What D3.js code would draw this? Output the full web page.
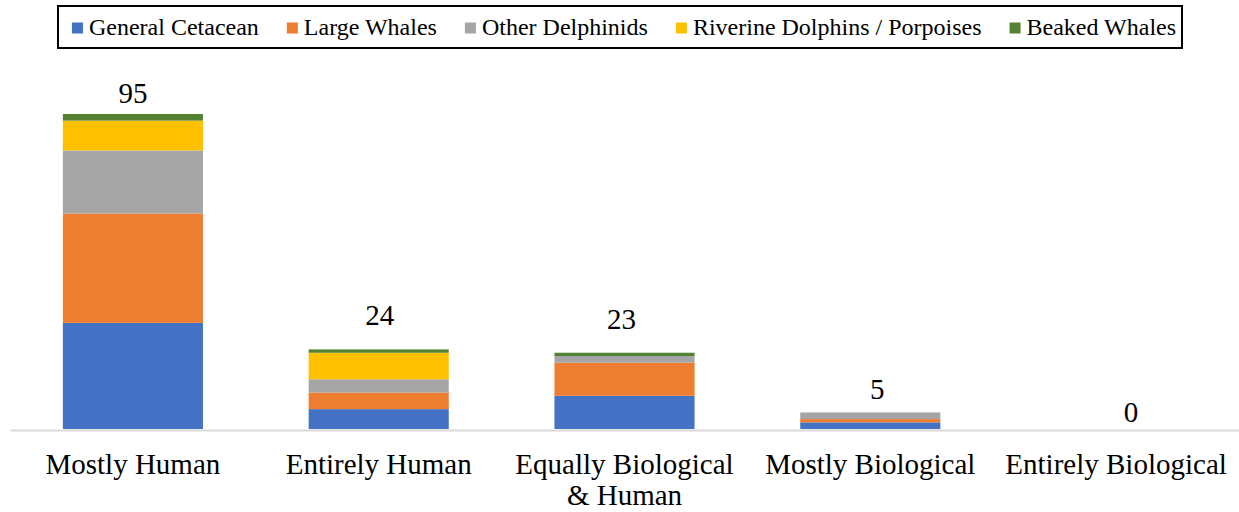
<!DOCTYPE html>
<html>
<head>
<meta charset="utf-8">
<script src="https://cdn.jsdelivr.net/npm/d3@7"></script>
</head>
<body style="margin:0;background:#fff">
<svg id="chart" width="1239" height="512" style="display:block"></svg>
<script>
// Categories of attributed cause and the counts per cetacean group
const categories = ["Mostly Human", "Entirely Human", "Equally Biological & Human", "Mostly Biological", "Entirely Biological"];
const seriesNames = ["General Cetacean", "Large Whales", "Other Delphinids", "Riverine Dolphins / Porpoises", "Beaked Whales"];
const generalCetacean = [32, 6, 10, 2, 0];
const largeWhales     = [33, 5, 10, 1, 0];
const otherDelphinids = [19, 4, 2, 2, 0];
const riverine        = [9, 8, 0, 0, 0];
const beakedWhales    = [2, 1, 1, 0, 0];
const totals          = [95, 24, 23, 5, 0];

const seriesColors = ["#4472C4", "#ED7D31", "#A5A5A5", "#FFC000", "#548235"];
// placement tweaks for the total labels: gap above the stack and sideways shift
const labelGap = [11, 24, 24, 13, 7];
const labelShift = [0, 1, -3, 7, 15];

const FONT = '"Liberation Serif"';
const W = 1239, H = 512;

// apply the serif face to a text selection
function serif(sel, size) {
  sel.attr("font-family", "Liberation Serif")
    .attr("font-size", size)
    .style("font-family", FONT, "important")
    .style("font-size", size + "px", "important")
    .attr("fill", "#000");
}

const svg = d3.select("#chart").attr("font-family", "Liberation Serif");

const rows = categories.map((c, i) => ({
  category: c,
  [seriesNames[0]]: generalCetacean[i],
  [seriesNames[1]]: largeWhales[i],
  [seriesNames[2]]: otherDelphinids[i],
  [seriesNames[3]]: riverine[i],
  [seriesNames[4]]: beakedWhales[i]
}));

const stacked = d3.stack().keys(seriesNames)(rows);

const x = d3.scaleBand()
  .domain(categories)
  .range([10, W])
  .paddingInner(0.43)
  .paddingOuter(0.215);

const y = d3.scaleLinear().domain([0, 100]).range([429, 97.4]);

const color = d3.scaleOrdinal().domain(seriesNames).range(seriesColors);

// stacked bars
svg.append("g")
  .selectAll("g")
  .data(stacked)
  .join("g")
  .attr("fill", d => color(d.key))
  .selectAll("rect")
  .data(d => d)
  .join("rect")
  .attr("x", d => x(d.data.category))
  .attr("width", x.bandwidth())
  .attr("y", d => y(d[1]))
  .attr("height", d => y(d[0]) - y(d[1]));

// baseline axis
const xAxis = d3.axisBottom(x).tickSize(0).tickFormat("");
const axisG = svg.append("g")
  .attr("transform", `translate(0,${y(0) + 1})`)
  .call(xAxis);
axisG.select(".domain").attr("stroke", "#d9d9d9").attr("stroke-width", 2);

// category labels, wrapped to the band step
const step = x.step();
const catLabels = svg.append("g")
  .selectAll("text")
  .data(categories)
  .join("text")
  .attr("x", d => x(d) + x.bandwidth() / 2)
  .attr("y", 474)
  .attr("text-anchor", "middle")
  .call(serif, 29);

catLabels.each(function(d) {
  const t = d3.select(this);
  const words = d.split(" ");
  let line = [];
  let tspan = t.append("tspan").attr("x", t.attr("x")).attr("dy", 0);
  words.forEach(w => {
    line.push(w);
    tspan.text(line.join(" "));
    if (tspan.node().getComputedTextLength() > step && line.length > 1) {
      line.pop();
      tspan.text(line.join(" "));
      line = [w];
      tspan = t.append("tspan").attr("x", t.attr("x")).attr("dy", 31).text(w);
    }
  });
});

// total labels above each stack
svg.append("g")
  .selectAll("text")
  .data(totals)
  .join("text")
  .attr("x", (d, i) => x(categories[i]) + x.bandwidth() / 2 + labelShift[i])
  .attr("y", (d, i) => y(d) - labelGap[i])
  .attr("text-anchor", "middle")
  .call(serif, 29)
  .text(d => d);

// legend
const legend = svg.append("g");
const box = legend.append("rect")
  .attr("fill", "#fff")
  .attr("stroke", "#000")
  .attr("stroke-width", 2);

const items = legend.selectAll("g.item")
  .data(seriesNames)
  .join("g")
  .attr("class", "item");

items.append("rect")
  .attr("width", 11)
  .attr("height", 11)
  .attr("y", -12.5)
  .attr("fill", d => color(d));

items.append("text")
  .attr("x", 17)
  .attr("y", 0)
  .call(serif, 24)
  .text(d => d);

const itemGap = 28;
let cursor = 0;
const widths = [];
items.each(function() {
  const w = 17 + d3.select(this).select("text").node().getComputedTextLength();
  widths.push(w);
});
const totalW = d3.sum(widths) + itemGap * (widths.length - 1);
const startX = 624 - totalW / 2;
items.attr("transform", (d, i) => {
  const tx = startX + cursor;
  cursor += widths[i] + itemGap;
  return `translate(${tx},35)`;
});

box.attr("x", 58).attr("y", 6).attr("width", 1124).attr("height", 42);
</script>
</body>
</html>
